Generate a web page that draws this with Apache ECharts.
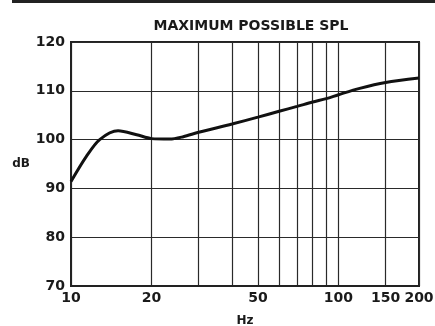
<!DOCTYPE html>
<html><head><meta charset="utf-8">
<script src="https://cdn.jsdelivr.net/npm/echarts@6/dist/echarts.min.js"></script>
<style>html,body{margin:0;padding:0;background:#fff}#c{width:435px;height:326px}</style>
</head><body><div id="c"></div>
<script>
const freqs = [10, 11.4, 12.8, 15, 17.6, 20, 23.4, 26.3, 30, 40, 50, 60, 70, 80, 90, 100, 120, 150, 200];
const spl = [91.4, 96.5, 100, 101.8, 101.0, 100.2, 100.1, 100.6, 101.5, 103.2, 104.6, 105.8, 106.8, 107.7, 108.4, 109.2, 110.5, 111.7, 112.6];
const gridFreqs = [10, 20, 30, 40, 50, 60, 70, 80, 90, 100, 150, 200];
const xLabels = [10, 20, 50, 100, 150, 200];
const title = 'MAXIMUM POSSIBLE SPL';

const F = 'DejaVu Sans';
const chart = echarts.init(document.getElementById('c'), null, {renderer: 'canvas'});
chart.setOption({
  animation: false,
  backgroundColor: '#fff',
  title: {text: title, left: 246, top: 14, textAlign: 'center',
    textStyle: {fontFamily: F, fontWeight: 'bold', fontSize: 14, color: '#1a1a1a'}},
  graphic: [{type: 'rect', shape: {x: 12, y: 0, width: 423, height: 3}, style: {fill: '#222'}}],
  grid: {left: 71, right: 16, top: 42, bottom: 40, outerBoundsMode: 'none', containLabel: false,
    show: true, borderColor: '#222', borderWidth: 2, backgroundColor: 'transparent'},
  xAxis: {type: 'log', logBase: 10, min: 10, max: 200,
    name: 'Hz', nameLocation: 'middle', nameGap: 29,
    nameTextStyle: {fontFamily: F, fontWeight: 'bold', fontSize: 12, color: '#1a1a1a'},
    axisLine: {show: true, lineStyle: {color: '#222', width: 2}},
    axisTick: {show: false, customValues: gridFreqs},
    splitLine: {show: true, lineStyle: {color: '#2a2a2a', width: 1.2}},
    axisLabel: {customValues: xLabels, fontFamily: F, fontWeight: 'bold', fontSize: 14, color: '#1a1a1a', margin: 5, hideOverlap: false}
  },
  yAxis: {type: 'value', min: 70, max: 120, interval: 10,
    name: 'dB', nameLocation: 'middle', nameRotate: 0, nameGap: 31,
    nameTextStyle: {fontFamily: F, fontWeight: 'bold', fontSize: 12, color: '#1a1a1a'},
    axisLine: {show: true, lineStyle: {color: '#222', width: 2}},
    axisTick: {show: false},
    splitLine: {show: true, lineStyle: {color: '#2a2a2a', width: 1.2}},
    axisLabel: {fontFamily: F, fontWeight: 'bold', fontSize: 14, color: '#1a1a1a', margin: 6}
  },
  series: [{type: 'line', data: freqs.map((f, i) => [f, spl[i]]), smooth: 0.3, showSymbol: false,
    lineStyle: {color: '#111', width: 3}}]
});
</script></body></html>
